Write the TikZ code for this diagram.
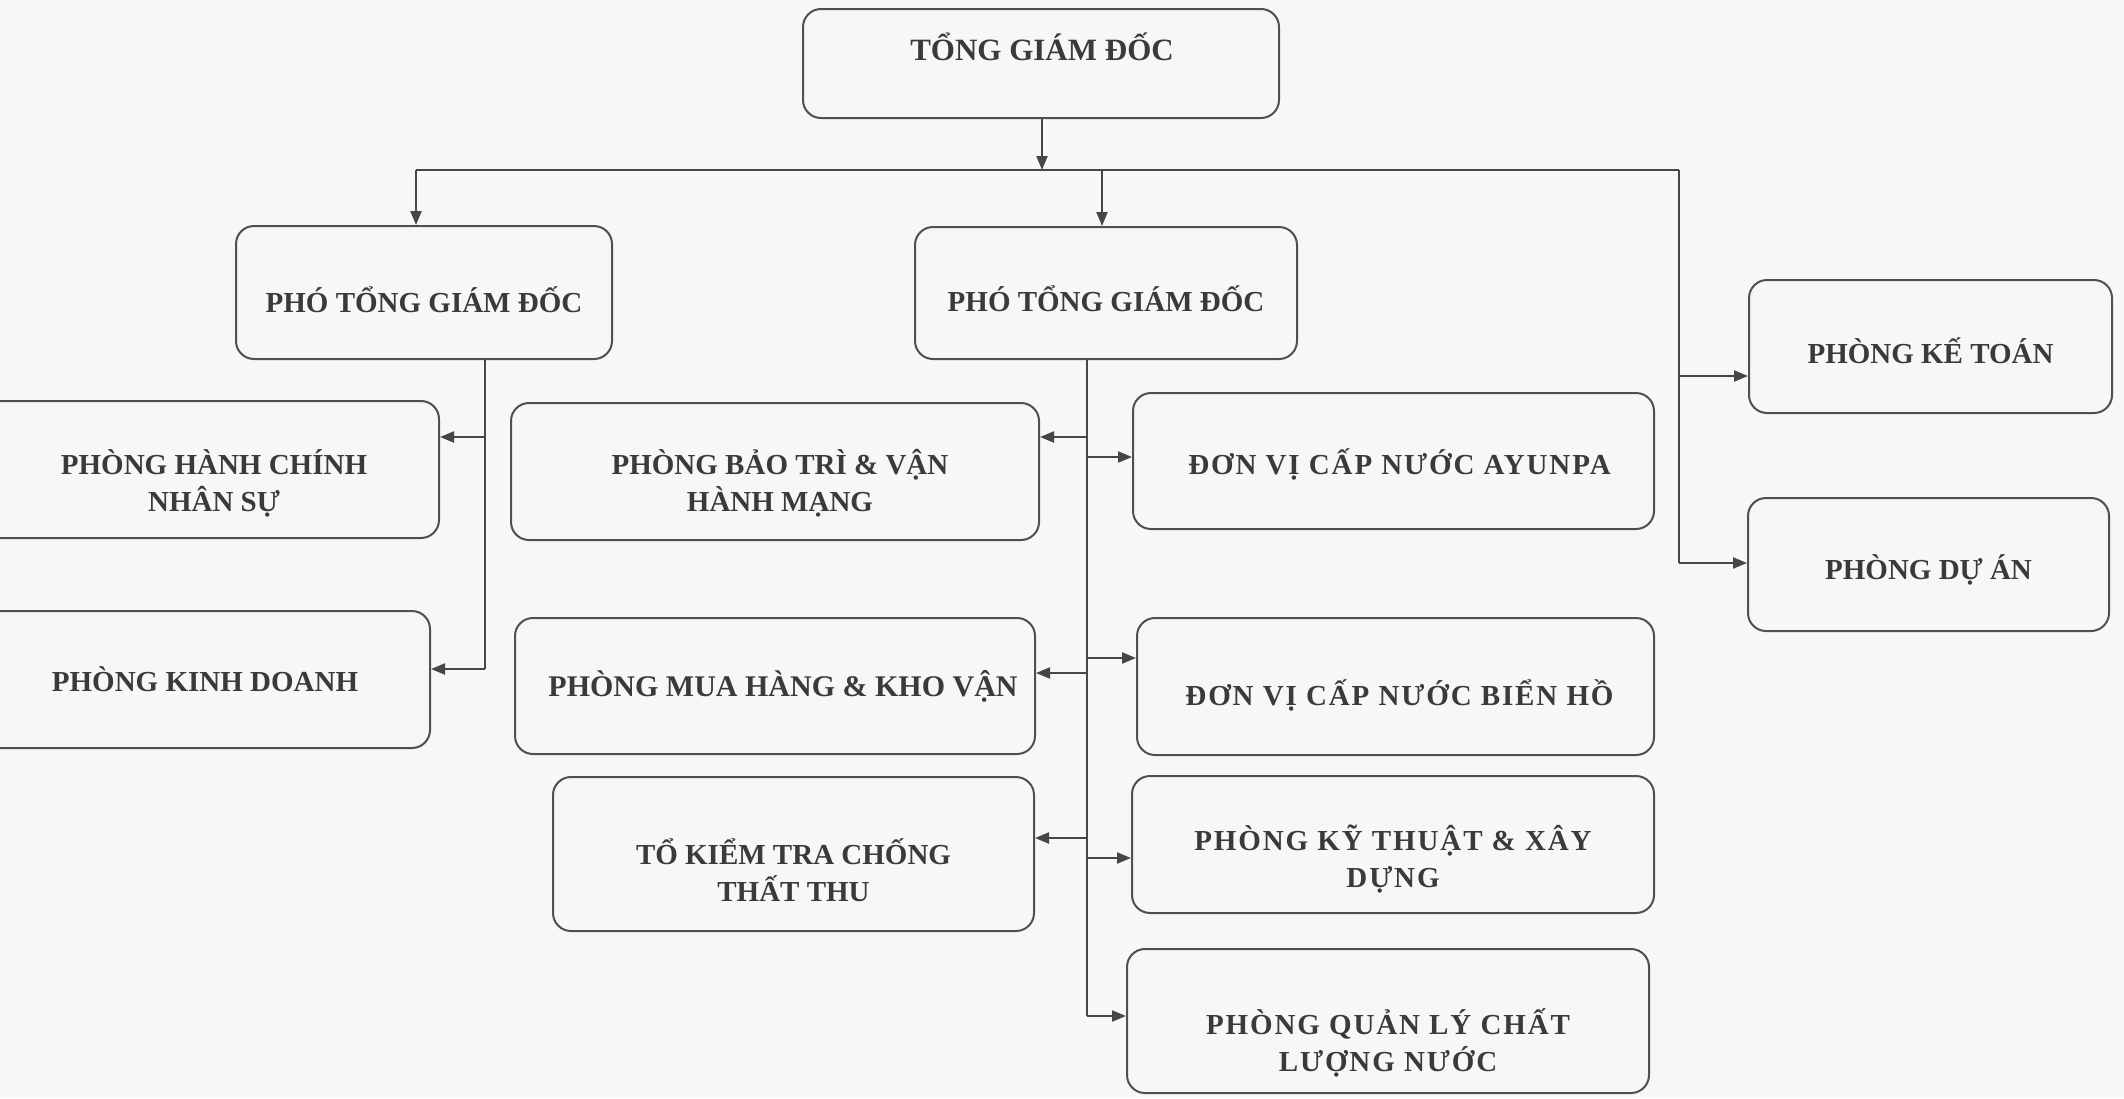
\documentclass[tikz,border=0pt]{standalone}
\usepackage{fontspec}
\setmainfont{Liberation Serif}
\newfontfamily\spacedfont{Liberation Serif}[LetterSpace=6.5]
\usetikzlibrary{arrows.meta}
\definecolor{bgc}{RGB}{247,247,245}
\definecolor{boxc}{RGB}{80,80,80}
\definecolor{linec}{RGB}{70,70,70}
\definecolor{txtc}{RGB}{58,58,58}
\newcommand{\bodyfont}{\fontsize{29}{37}\selectfont\bfseries}
\begin{document}
\begin{tikzpicture}[x=1pt,y=-1pt,
  box/.style={draw=boxc, line width=2pt, rounded corners=18pt, inner sep=0pt},
  lbl/.style={inner sep=0pt, align=center, font=\bodyfont, text=txtc},
  wlbl/.style={lbl, font=\spacedfont\bodyfont},
  conn/.style={draw=linec, line width=2.2pt},
  arr/.style={conn, -{Triangle[length=14pt,width=11pt]}}]

\useasboundingbox (0,0) rectangle (2124,1098);
\fill[bgc] (0,0) rectangle (2124,1098);
\clip (0,0) rectangle (2124,1098);

% top
\node[box, minimum width=476pt, minimum height=109pt] (tgd) at (1041,63.5) {};
\node[lbl, font=\fontsize{31}{37}\selectfont\bfseries] (tgdt) at (1042,47) {TỔNG GIÁM ĐỐC};

% deputies
\node[box, minimum width=376pt, minimum height=133pt] (ptl) at (424,292.5) {};
\node[lbl] (ptlt) at ([yshift=-7pt]ptl.center) {PHÓ TỔNG GIÁM ĐỐC};
\node[box, minimum width=382pt, minimum height=132pt] (ptm) at (1106,293) {};
\node[lbl] (ptmt) at ([yshift=-6pt]ptm.center) {PHÓ TỔNG GIÁM ĐỐC};

% left column (open at the page edge)
\node[box, minimum width=479pt, minimum height=137pt] (hcns) at (199.5,469.5) {};
\node[lbl] (hcnst) at (214,483) {PHÒNG HÀNH CHÍNH\\NHÂN SỰ};
\node[box, minimum width=470pt, minimum height=137pt] (kd) at (195,679.5) {};
\node[lbl] (kdt) at (205,679) {PHÒNG KINH DOANH};

% middle-left column
\node[box, minimum width=528pt, minimum height=137pt] (btvh) at (775,471.5) {};
\node[lbl] (btvht) at ([xshift=5pt,yshift=-12pt]btvh.center) {PHÒNG BẢO TRÌ \& VẬN\\HÀNH MẠNG};
\node[box, minimum width=520pt, minimum height=136pt] (mhkv) at (775,686) {};
\node[lbl, font=\fontsize{30}{37}\selectfont\bfseries] (mhkvt) at ([xshift=8pt]mhkv.center) {PHÒNG MUA HÀNG \& KHO VẬN};
\node[box, minimum width=481pt, minimum height=154pt] (tktc) at (793.5,854) {};
\node[lbl] (tktct) at ([yshift=-16pt]tktc.center) {TỔ KIỂM TRA CHỐNG\\THẤT THU};

% middle-right column
\node[box, minimum width=521pt, minimum height=136pt] (ayun) at (1393.5,461) {};
\node[wlbl] (ayunt) at ([xshift=6pt,yshift=-3pt]ayun.center) {ĐƠN VỊ CẤP NƯỚC AYUNPA};
\node[box, minimum width=517pt, minimum height=137pt] (bh) at (1395.5,686.5) {};
\node[wlbl] (bht) at ([xshift=4pt,yshift=-9pt]bh.center) {ĐƠN VỊ CẤP NƯỚC BIỂN HỒ};
\node[box, minimum width=522pt, minimum height=137pt] (ktxd) at (1393,844.5) {};
\node[wlbl] (ktxdt) at ([yshift=-15pt]ktxd.center) {PHÒNG KỸ THUẬT \& XÂY\\DỰNG};
\node[box, minimum width=522pt, minimum height=144pt] (qlcl) at (1388,1021) {};
\node[wlbl] (qlclt) at ([yshift=-22pt]qlcl.center) {PHÒNG QUẢN LÝ CHẤT\\LƯỢNG NƯỚC};

% right column
\node[box, minimum width=363pt, minimum height=133pt] (kt) at (1930.5,346.5) {};
\node[lbl] (ktt) at ([yshift=-4pt]kt.center) {PHÒNG KẾ TOÁN};
\node[box, minimum width=361pt, minimum height=133pt] (da) at (1928.5,564.5) {};
\node[lbl] (dat) at ([yshift=-5pt]da.center) {PHÒNG DỰ ÁN};

% bus
\coordinate (b0) at (1042,170);
\coordinate (bL) at (416,170);
\coordinate (bM) at (1102,170);
\coordinate (bR) at (1679,170);
\draw[arr] (tgd.south -| b0) -- (b0);
\draw[conn] (bL) -- (bR);
\draw[arr] (bL) -- (bL |- ptl.north);
\draw[arr] (bM) -- (bM |- ptm.north);

% right branch
\coordinate (rK) at (1679,376);
\coordinate (rD) at (1679,563);
\draw[conn] (bR) -- (rD);
\draw[arr] (rK) -- (rK -| kt.west);
\draw[arr] (rD) -- (rD -| da.west);

% left branch
\coordinate (lH) at (485,437);
\coordinate (lK) at (485,669);
\draw[conn] (ptl.south -| lH) -- (lK);
\draw[arr] (lH) -- (lH -| hcns.east);
\draw[arr] (lK) -- (lK -| kd.east);

% middle branch
\coordinate (m1) at (1087,437);
\coordinate (m2) at (1087,457);
\coordinate (m3) at (1087,658);
\coordinate (m4) at (1087,673);
\coordinate (m5) at (1087,838);
\coordinate (m6) at (1087,858);
\coordinate (m7) at (1087,1016);
\draw[conn] (ptm.south -| m1) -- (m7);
\draw[arr] (m1) -- (m1 -| btvh.east);
\draw[arr] (m2) -- (m2 -| ayun.west);
\draw[arr] (m3) -- (m3 -| bh.west);
\draw[arr] (m4) -- (m4 -| mhkv.east);
\draw[arr] (m5) -- (m5 -| tktc.east);
\draw[arr] (m6) -- (m6 -| ktxd.west);
\draw[arr] (m7) -- (m7 -| qlcl.west);
\end{tikzpicture}
\end{document}
